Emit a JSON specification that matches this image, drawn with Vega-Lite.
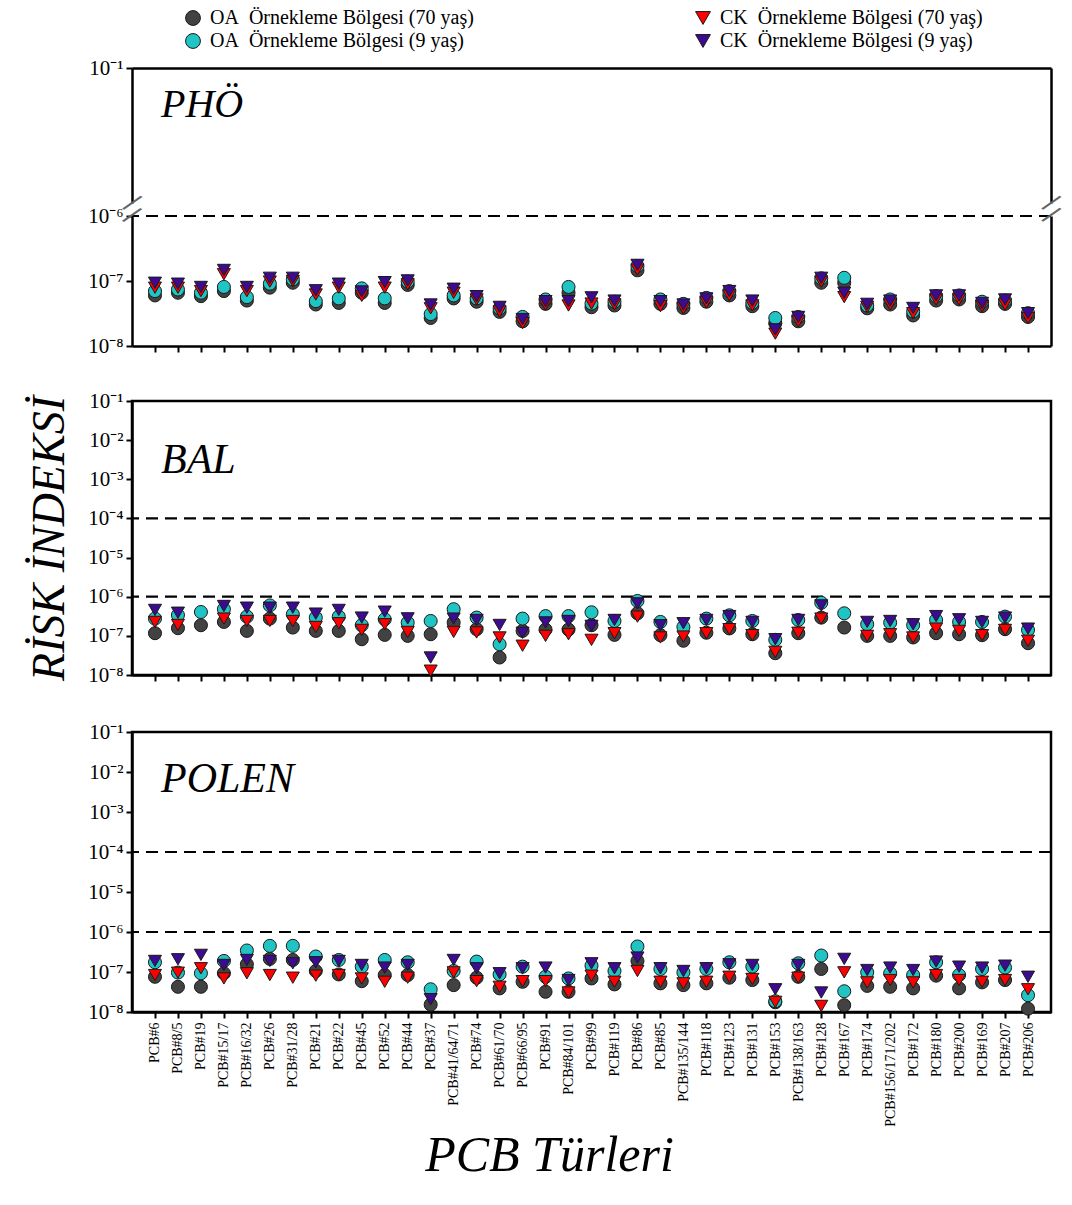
{
  "$schema": "https://vega.github.io/schema/vega-lite/v6.json",
  "padding": {"left": 25, "top": 8, "right": 5, "bottom": 5},
  "background": "white",
  "config": {
    "font": "Liberation Serif",
    "view": {"stroke": "black", "strokeWidth": 2.5},
    "axis": {"grid": false, "domainColor": "black", "domainWidth": 2.5, "tickColor": "black", "tickWidth": 2, "tickSize": 6, "labelColor": "black", "labelFont": "Liberation Serif", "titleFont": "Liberation Serif", "titleColor": "black", "labelFontSize": 21, "labelPadding": 3},
    "legend": {"labelFont": "Liberation Serif", "labelFontSize": 20, "labelColor": "black", "labelLimit": 0}
  },
  "datasets": {
    "pho": [
      {"pcb":"PCB#6","oa70":6.0e-8,"oa9":7.0e-8,"ck70":7.9e-8,"ck9":9.4e-8},
      {"pcb":"PCB#8/5","oa70":6.6e-8,"oa9":7.4e-8,"ck70":7.9e-8,"ck9":9.1e-8},
      {"pcb":"PCB#19","oa70":5.85e-8,"oa9":6.6e-8,"ck70":7.0e-8,"ck9":8.1e-8},
      {"pcb":"PCB#15/17","oa70":7.0e-8,"oa9":8.1e-8,"ck70":1.27e-7,"ck9":1.48e-7},
      {"pcb":"PCB#16/32","oa70":5.0e-8,"oa9":5.65e-8,"ck70":7.0e-8,"ck9":8.1e-8},
      {"pcb":"PCB#26","oa70":7.9e-8,"oa9":9.1e-8,"ck70":9.8e-8,"ck9":1.12e-7},
      {"pcb":"PCB#31/28","oa70":9.4e-8,"oa9":1.06e-7,"ck70":1.0e-7,"ck9":1.12e-7},
      {"pcb":"PCB#21","oa70":4.35e-8,"oa9":4.9e-8,"ck70":6.2e-8,"ck9":7.2e-8},
      {"pcb":"PCB#22","oa70":4.6e-8,"oa9":5.4e-8,"ck70":7.9e-8,"ck9":9.1e-8},
      {"pcb":"PCB#45","oa70":6.6e-8,"oa9":7.7e-8,"ck70":5.9e-8,"ck9":6.9e-8},
      {"pcb":"PCB#52","oa70":4.6e-8,"oa9":5.4e-8,"ck70":7.9e-8,"ck9":9.6e-8},
      {"pcb":"PCB#44","oa70":8.7e-8,"oa9":9.8e-8,"ck70":8.9e-8,"ck9":1.02e-7},
      {"pcb":"PCB#37","oa70":2.7e-8,"oa9":3.1e-8,"ck70":3.8e-8,"ck9":4.35e-8},
      {"pcb":"PCB#41/64/71","oa70":5.4e-8,"oa9":6.0e-8,"ck70":6.6e-8,"ck9":7.6e-8},
      {"pcb":"PCB#74","oa70":4.8e-8,"oa9":5.4e-8,"ck70":5.2e-8,"ck9":5.85e-8},
      {"pcb":"PCB#61/70","oa70":3.35e-8,"oa9":3.8e-8,"ck70":3.4e-8,"ck9":4.0e-8},
      {"pcb":"PCB#66/95","oa70":2.4e-8,"oa9":2.8e-8,"ck70":2.25e-8,"ck9":2.6e-8},
      {"pcb":"PCB#91","oa70":4.45e-8,"oa9":5.2e-8,"ck70":4.35e-8,"ck9":4.9e-8},
      {"pcb":"PCB#84/101","oa70":6.6e-8,"oa9":8.1e-8,"ck70":4.2e-8,"ck9":4.9e-8},
      {"pcb":"PCB#99","oa70":3.95e-8,"oa9":4.5e-8,"ck70":4.5e-8,"ck9":5.6e-8},
      {"pcb":"PCB#119","oa70":4.2e-8,"oa9":4.8e-8,"ck70":4.35e-8,"ck9":5.0e-8},
      {"pcb":"PCB#86","oa70":1.46e-7,"oa9":1.7e-7,"ck70":1.5e-7,"ck9":1.77e-7},
      {"pcb":"PCB#85","oa70":4.45e-8,"oa9":5.2e-8,"ck70":4.1e-8,"ck9":4.9e-8},
      {"pcb":"PCB#135/144","oa70":3.85e-8,"oa9":4.45e-8,"ck70":3.8e-8,"ck9":4.35e-8},
      {"pcb":"PCB#118","oa70":4.8e-8,"oa9":5.5e-8,"ck70":4.7e-8,"ck9":5.4e-8},
      {"pcb":"PCB#123","oa70":6.0e-8,"oa9":7.0e-8,"ck70":6.0e-8,"ck9":7.0e-8},
      {"pcb":"PCB#131","oa70":4.1e-8,"oa9":4.6e-8,"ck70":4.2e-8,"ck9":5.0e-8},
      {"pcb":"PCB#153","oa70":2.25e-8,"oa9":2.7e-8,"ck70":1.55e-8,"ck9":1.8e-8},
      {"pcb":"PCB#138/163","oa70":2.4e-8,"oa9":2.8e-8,"ck70":2.4e-8,"ck9":2.8e-8},
      {"pcb":"PCB#128","oa70":9.4e-8,"oa9":1.1e-7,"ck70":9.8e-8,"ck9":1.12e-7},
      {"pcb":"PCB#167","oa70":9.4e-8,"oa9":1.12e-7,"ck70":5.65e-8,"ck9":6.6e-8},
      {"pcb":"PCB#174","oa70":3.8e-8,"oa9":4.2e-8,"ck70":4.0e-8,"ck9":4.45e-8},
      {"pcb":"PCB#156/171/202","oa70":4.35e-8,"oa9":5.2e-8,"ck70":4.35e-8,"ck9":5.0e-8},
      {"pcb":"PCB#172","oa70":2.95e-8,"oa9":3.4e-8,"ck70":3.2e-8,"ck9":3.85e-8},
      {"pcb":"PCB#180","oa70":5.0e-8,"oa9":5.85e-8,"ck70":5.2e-8,"ck9":6.0e-8},
      {"pcb":"PCB#200","oa70":5.2e-8,"oa9":6.0e-8,"ck70":5.2e-8,"ck9":6.0e-8},
      {"pcb":"PCB#169","oa70":4.1e-8,"oa9":4.8e-8,"ck70":4.1e-8,"ck9":4.6e-8},
      {"pcb":"PCB#207","oa70":4.45e-8,"oa9":5.0e-8,"ck70":4.35e-8,"ck9":5.2e-8},
      {"pcb":"PCB#206","oa70":2.8e-8,"oa9":3.2e-8,"ck70":2.7e-8,"ck9":3.2e-8}
    ],
    "bal": [
      {"pcb":"PCB#6","oa70":1.17e-7,"oa9":2.76e-7,"ck70":2.27e-7,"ck9":4.6e-7},
      {"pcb":"PCB#8/5","oa70":1.57e-7,"oa9":3.4e-7,"ck70":1.9e-7,"ck9":3.9e-7},
      {"pcb":"PCB#19","oa70":1.87e-7,"oa9":4.07e-7,"ck70":null,"ck9":null},
      {"pcb":"PCB#15/17","oa70":2.27e-7,"oa9":4.8e-7,"ck70":2.76e-7,"ck9":5.8e-7},
      {"pcb":"PCB#16/32","oa70":1.34e-7,"oa9":3.1e-7,"ck70":2.4e-7,"ck9":5.25e-7},
      {"pcb":"PCB#26","oa70":2.76e-7,"oa9":6.0e-7,"ck70":2.4e-7,"ck9":5.25e-7},
      {"pcb":"PCB#31/28","oa70":1.63e-7,"oa9":3.55e-7,"ck70":2.4e-7,"ck9":5.25e-7},
      {"pcb":"PCB#21","oa70":1.34e-7,"oa9":2.93e-7,"ck70":1.69e-7,"ck9":3.7e-7},
      {"pcb":"PCB#22","oa70":1.34e-7,"oa9":3.1e-7,"ck70":2.1e-7,"ck9":4.6e-7},
      {"pcb":"PCB#45","oa70":8.2e-8,"oa9":1.87e-7,"ck70":1.42e-7,"ck9":2.93e-7},
      {"pcb":"PCB#52","oa70":1.06e-7,"oa9":2.65e-7,"ck70":1.98e-7,"ck9":4.15e-7},
      {"pcb":"PCB#44","oa70":1.0e-7,"oa9":2.18e-7,"ck70":1.26e-7,"ck9":2.8e-7},
      {"pcb":"PCB#37","oa70":1.1e-7,"oa9":2.4e-7,"ck70":1.29e-8,"ck9":2.8e-8},
      {"pcb":"PCB#41/64/71","oa70":2.18e-7,"oa9":4.8e-7,"ck70":1.26e-7,"ck9":2.76e-7},
      {"pcb":"PCB#74","oa70":1.48e-7,"oa9":2.93e-7,"ck70":1.22e-7,"ck9":2.55e-7},
      {"pcb":"PCB#61/70","oa70":2.8e-8,"oa9":6.1e-8,"ck70":9.1e-8,"ck9":1.9e-7},
      {"pcb":"PCB#66/95","oa70":1.34e-7,"oa9":2.76e-7,"ck70":5.6e-8,"ck9":1.2e-7},
      {"pcb":"PCB#91","oa70":1.45e-7,"oa9":3.2e-7,"ck70":1.0e-7,"ck9":2.2e-7},
      {"pcb":"PCB#84/101","oa70":1.45e-7,"oa9":3.2e-7,"ck70":1.1e-7,"ck9":2.4e-7},
      {"pcb":"PCB#99","oa70":1.87e-7,"oa9":4.0e-7,"ck70":7.9e-8,"ck9":1.8e-7},
      {"pcb":"PCB#119","oa70":1.06e-7,"oa9":2.4e-7,"ck70":1.17e-7,"ck9":2.55e-7},
      {"pcb":"PCB#86","oa70":3.77e-7,"oa9":7.8e-7,"ck70":3.1e-7,"ck9":6.75e-7},
      {"pcb":"PCB#85","oa70":1.04e-7,"oa9":2.27e-7,"ck70":9.1e-8,"ck9":1.87e-7},
      {"pcb":"PCB#135/144","oa70":7.5e-8,"oa9":1.69e-7,"ck70":9.6e-8,"ck9":2.1e-7},
      {"pcb":"PCB#118","oa70":1.2e-7,"oa9":2.76e-7,"ck70":1.17e-7,"ck9":2.55e-7},
      {"pcb":"PCB#123","oa70":1.55e-7,"oa9":3.35e-7,"ck70":1.48e-7,"ck9":3.2e-7},
      {"pcb":"PCB#131","oa70":1.1e-7,"oa9":2.4e-7,"ck70":1.04e-7,"ck9":2.27e-7},
      {"pcb":"PCB#153","oa70":3.6e-8,"oa9":7.9e-8,"ck70":3.9e-8,"ck9":8.2e-8},
      {"pcb":"PCB#138/163","oa70":1.17e-7,"oa9":2.55e-7,"ck70":1.2e-7,"ck9":2.55e-7},
      {"pcb":"PCB#128","oa70":2.93e-7,"oa9":7.0e-7,"ck70":2.76e-7,"ck9":6.0e-7},
      {"pcb":"PCB#167","oa70":1.63e-7,"oa9":3.77e-7,"ck70":null,"ck9":null},
      {"pcb":"PCB#174","oa70":1.0e-7,"oa9":1.98e-7,"ck70":1.0e-7,"ck9":2.27e-7},
      {"pcb":"PCB#156/171/202","oa70":1.0e-7,"oa9":2.18e-7,"ck70":1.1e-7,"ck9":2.4e-7},
      {"pcb":"PCB#172","oa70":9.1e-8,"oa9":1.87e-7,"ck70":9.1e-8,"ck9":1.98e-7},
      {"pcb":"PCB#180","oa70":1.17e-7,"oa9":2.55e-7,"ck70":1.53e-7,"ck9":3.2e-7},
      {"pcb":"PCB#200","oa70":1.1e-7,"oa9":2.27e-7,"ck70":1.34e-7,"ck9":2.65e-7},
      {"pcb":"PCB#169","oa70":1.04e-7,"oa9":2.27e-7,"ck70":1.04e-7,"ck9":2.27e-7},
      {"pcb":"PCB#207","oa70":1.48e-7,"oa9":3.1e-7,"ck70":1.42e-7,"ck9":2.93e-7},
      {"pcb":"PCB#206","oa70":6.5e-8,"oa9":1.42e-7,"ck70":7.5e-8,"ck9":1.53e-7}
    ],
    "polen": [
      {"pcb":"PCB#6","oa70":7.6e-8,"oa9":1.75e-7,"ck70":8.4e-8,"ck9":1.89e-7},
      {"pcb":"PCB#8/5","oa70":4.27e-8,"oa9":9.7e-8,"ck70":9.6e-8,"ck9":2.08e-7},
      {"pcb":"PCB#19","oa70":4.27e-8,"oa9":9.3e-8,"ck70":1.24e-7,"ck9":2.68e-7},
      {"pcb":"PCB#15/17","oa70":9.3e-8,"oa9":1.89e-7,"ck70":6.9e-8,"ck9":1.5e-7},
      {"pcb":"PCB#16/32","oa70":1.56e-7,"oa9":3.45e-7,"ck70":9.3e-8,"ck9":2.0e-7},
      {"pcb":"PCB#26","oa70":2.13e-7,"oa9":4.5e-7,"ck70":8.4e-8,"ck9":1.89e-7},
      {"pcb":"PCB#31/28","oa70":2.0e-7,"oa9":4.5e-7,"ck70":7.2e-8,"ck9":1.65e-7},
      {"pcb":"PCB#21","oa70":1.06e-7,"oa9":2.44e-7,"ck70":8.1e-8,"ck9":1.75e-7},
      {"pcb":"PCB#22","oa70":8.7e-8,"oa9":2.0e-7,"ck70":8.4e-8,"ck9":1.89e-7},
      {"pcb":"PCB#45","oa70":5.9e-8,"oa9":1.36e-7,"ck70":6.9e-8,"ck9":1.5e-7},
      {"pcb":"PCB#52","oa70":8.4e-8,"oa9":2.0e-7,"ck70":5.7e-8,"ck9":1.29e-7},
      {"pcb":"PCB#44","oa70":8.4e-8,"oa9":1.75e-7,"ck70":7.2e-8,"ck9":1.5e-7},
      {"pcb":"PCB#37","oa70":1.53e-8,"oa9":3.7e-8,"ck70":null,"ck9":2.09e-8},
      {"pcb":"PCB#41/64/71","oa70":4.7e-8,"oa9":1.06e-7,"ck70":9.8e-8,"ck9":2.0e-7},
      {"pcb":"PCB#74","oa70":7.2e-8,"oa9":1.82e-7,"ck70":5.9e-8,"ck9":1.24e-7},
      {"pcb":"PCB#61/70","oa70":3.9e-8,"oa9":8.7e-8,"ck70":4.27e-8,"ck9":9.3e-8},
      {"pcb":"PCB#66/95","oa70":5.7e-8,"oa9":1.36e-7,"ck70":5.9e-8,"ck9":1.24e-7},
      {"pcb":"PCB#91","oa70":3.2e-8,"oa9":7.6e-8,"ck70":5.9e-8,"ck9":1.29e-7},
      {"pcb":"PCB#84/101","oa70":3.2e-8,"oa9":6.9e-8,"ck70":3.07e-8,"ck9":6.3e-8},
      {"pcb":"PCB#99","oa70":6.9e-8,"oa9":1.44e-7,"ck70":8.1e-8,"ck9":1.65e-7},
      {"pcb":"PCB#119","oa70":4.9e-8,"oa9":1.06e-7,"ck70":5.7e-8,"ck9":1.24e-7},
      {"pcb":"PCB#86","oa70":1.89e-7,"oa9":4.35e-7,"ck70":1.06e-7,"ck9":2.3e-7},
      {"pcb":"PCB#85","oa70":5.2e-8,"oa9":1.19e-7,"ck70":5.7e-8,"ck9":1.24e-7},
      {"pcb":"PCB#135/144","oa70":4.7e-8,"oa9":9.8e-8,"ck70":5.2e-8,"ck9":1.06e-7},
      {"pcb":"PCB#118","oa70":5.2e-8,"oa9":1.19e-7,"ck70":5.7e-8,"ck9":1.24e-7},
      {"pcb":"PCB#123","oa70":7.2e-8,"oa9":1.75e-7,"ck70":7.6e-8,"ck9":1.56e-7},
      {"pcb":"PCB#131","oa70":6.3e-8,"oa9":1.36e-7,"ck70":6.7e-8,"ck9":1.5e-7},
      {"pcb":"PCB#153","oa70":1.75e-8,"oa9":1.86e-8,"ck70":1.79e-8,"ck9":3.7e-8},
      {"pcb":"PCB#138/163","oa70":7.6e-8,"oa9":1.65e-7,"ck70":7.2e-8,"ck9":1.5e-7},
      {"pcb":"PCB#128","oa70":1.19e-7,"oa9":2.58e-7,"ck70":1.42e-8,"ck9":3.07e-8},
      {"pcb":"PCB#167","oa70":1.48e-8,"oa9":3.3e-8,"ck70":9.8e-8,"ck9":2.13e-7},
      {"pcb":"PCB#174","oa70":4.5e-8,"oa9":9.8e-8,"ck70":5.5e-8,"ck9":1.12e-7},
      {"pcb":"PCB#156/171/202","oa70":4.27e-8,"oa9":9.3e-8,"ck70":6.3e-8,"ck9":1.29e-7},
      {"pcb":"PCB#172","oa70":3.9e-8,"oa9":8.4e-8,"ck70":5.5e-8,"ck9":1.12e-7},
      {"pcb":"PCB#180","oa70":8.1e-8,"oa9":1.75e-7,"ck70":8.4e-8,"ck9":1.82e-7},
      {"pcb":"PCB#200","oa70":3.9e-8,"oa9":8.4e-8,"ck70":6.3e-8,"ck9":1.36e-7},
      {"pcb":"PCB#169","oa70":5.5e-8,"oa9":1.19e-7,"ck70":5.7e-8,"ck9":1.29e-7},
      {"pcb":"PCB#207","oa70":6.3e-8,"oa9":1.29e-7,"ck70":6.3e-8,"ck9":1.44e-7},
      {"pcb":"PCB#206","oa70":1.21e-8,"oa9":2.63e-8,"ck70":3.7e-8,"ck9":7.6e-8}
    ]
  },
  "spacing": 32,
  "bounds": "full",
  "resolve": {"scale": {"color": "shared", "shape": "shared"}, "legend": {"color": "shared", "shape": "shared"}},
  "vconcat": [
    {
      "spacing": 13,
      "bounds": "flush",
      "resolve": {"scale": {"color": "shared", "shape": "shared"}, "legend": {"color": "shared", "shape": "shared"}},
      "vconcat": [
        {
          "width": 919, "height": 135,
          "view": {"stroke": null},
          "layer": [
            {
              "data": {"values": [{}]},
              "mark": {"type": "text", "text": "PHÖ", "font": "Liberation Serif", "fontSize": 40, "fontStyle": "italic", "align": "left", "baseline": "alphabetic", "dx": 6, "color": "black"},
              "encoding": {
                "x": {"datum": "PCB#6", "type": "nominal", "scale": {"type": "point", "padding": 1, "domain": ["PCB#6","PCB#8/5","PCB#19","PCB#15/17","PCB#16/32","PCB#26","PCB#31/28","PCB#21","PCB#22","PCB#45","PCB#52","PCB#44","PCB#37","PCB#41/64/71","PCB#74","PCB#61/70","PCB#66/95","PCB#91","PCB#84/101","PCB#99","PCB#119","PCB#86","PCB#85","PCB#135/144","PCB#118","PCB#123","PCB#131","PCB#153","PCB#138/163","PCB#128","PCB#167","PCB#174","PCB#156/171/202","PCB#172","PCB#180","PCB#200","PCB#169","PCB#207","PCB#206"]}, "axis": {"orient": "top", "labels": false, "ticks": false, "title": null}},
                "y": {"datum": 1.5e-3, "type": "quantitative", "scale": {"type": "log", "domain": [1e-6, 1e-1], "nice": false}, "axis": {"values": [1e-1], "title": null, "labelExpr": "'10' + ['⁰','⁻¹','⁻²','⁻³','⁻⁴','⁻⁵','⁻⁶','⁻⁷','⁻⁸'][round(-log(datum.value)/LN10)]"}}
              }
            },
            {
              "data": {"values": [{}]},
              "mark": {"type": "rule", "opacity": 0},
              "encoding": {
                "y": {"datum": 1e-1, "type": "quantitative", "scale": {"type": "log", "domain": [1e-6, 1e-1], "nice": false}, "axis": {"orient": "right", "labels": false, "ticks": false, "title": null}}
              }
            }
          ],
          "resolve": {"scale": {"y": "independent"}}
        },
        {
          "width": 919, "height": 130,
          "view": {"stroke": null},
          "layer": [
            {
              "data": {"values": [{}]},
              "mark": {"type": "rule", "strokeDash": [12, 7], "strokeWidth": 2.2, "color": "black"},
              "encoding": {
                "y": {"datum": 1e-6, "type": "quantitative", "scale": {"type": "log", "domain": [1e-8, 1e-6], "nice": false}, "axis": null}
              }
            },
            {
              "data": {"values": [{}]},
              "mark": {"type": "text", "text": "/", "font": "DejaVu Sans", "fontSize": 26, "angle": 38, "align": "center", "baseline": "middle", "dx": -26.1, "dy": 3.9, "color": "#666666"},
              "encoding": {
                "x": {"datum": "PCB#6", "type": "nominal"},
                "y": {"datum": 1e-6, "type": "quantitative", "scale": {"type": "log", "domain": [1e-8, 1e-6], "nice": false}, "axis": null}
              }
            },
            {
              "data": {"values": [{}]},
              "mark": {"type": "text", "text": "/", "font": "DejaVu Sans", "fontSize": 26, "angle": 38, "align": "center", "baseline": "middle", "dx": -18.7, "dy": 13.4, "color": "#666666"},
              "encoding": {
                "x": {"datum": "PCB#6", "type": "nominal"},
                "y": {"datum": 1e-6, "type": "quantitative", "scale": {"type": "log", "domain": [1e-8, 1e-6], "nice": false}, "axis": null}
              }
            },
            {
              "data": {"values": [{}]},
              "mark": {"type": "text", "text": "/", "font": "DejaVu Sans", "fontSize": 26, "angle": 38, "align": "center", "baseline": "middle", "dx": 10.1, "dy": -24.4, "color": "#666666"},
              "encoding": {
                "x": {"datum": "PCB#206", "type": "nominal"},
                "y": {"datum": 1e-6, "type": "quantitative", "scale": {"type": "log", "domain": [1e-8, 1e-6], "nice": false}, "axis": null}
              }
            },
            {
              "data": {"values": [{}]},
              "mark": {"type": "text", "text": "/", "font": "DejaVu Sans", "fontSize": 26, "angle": 38, "align": "center", "baseline": "middle", "dx": 17.5, "dy": -15.0, "color": "#666666"},
              "encoding": {
                "x": {"datum": "PCB#206", "type": "nominal"},
                "y": {"datum": 1e-6, "type": "quantitative", "scale": {"type": "log", "domain": [1e-8, 1e-6], "nice": false}, "axis": null}
              }
            },
            {
              "data": {"name": "pho"},
              "transform": [{"fold": ["oa70", "oa9", "ck70", "ck9"], "as": ["series", "value"]}, {"filter": "isValid(datum.value)"}],
              "mark": {"type": "point", "filled": true, "size": 170, "stroke": "#1a1a1a", "strokeWidth": 1, "opacity": 1},
              "encoding": {
                "x": {"field": "pcb", "type": "nominal", "scale": {"type": "point", "padding": 1, "domain": ["PCB#6","PCB#8/5","PCB#19","PCB#15/17","PCB#16/32","PCB#26","PCB#31/28","PCB#21","PCB#22","PCB#45","PCB#52","PCB#44","PCB#37","PCB#41/64/71","PCB#74","PCB#61/70","PCB#66/95","PCB#91","PCB#84/101","PCB#99","PCB#119","PCB#86","PCB#85","PCB#135/144","PCB#118","PCB#123","PCB#131","PCB#153","PCB#138/163","PCB#128","PCB#167","PCB#174","PCB#156/171/202","PCB#172","PCB#180","PCB#200","PCB#169","PCB#207","PCB#206"]}, "axis": {"labels": false, "title": null}},
                "y": {"field": "value", "type": "quantitative", "scale": {"type": "log", "domain": [1e-8, 1e-6], "nice": false}, "axis": {"values": [1e-8, 1e-7, 1e-6], "title": null, "labelExpr": "'10' + ['⁰','⁻¹','⁻²','⁻³','⁻⁴','⁻⁵','⁻⁶','⁻⁷','⁻⁸'][round(-log(datum.value)/LN10)]"}},
                "color": {"field": "series", "type": "nominal", "scale": {"domain": ["oa70", "oa9", "ck70", "ck9"], "range": ["#424242", "#21c4c4", "#ff0000", "#3d0b8f"]}, "legend": {"title": null, "orient": "none", "legendX": 51, "legendY": -60, "columns": 2, "columnPadding": 219, "rowPadding": 3, "symbolSize": 220, "symbolStrokeColor": "#1a1a1a", "symbolStrokeWidth": 1, "labelOffset": 7, "labelExpr": "datum.value == 'oa70' ? 'OA\u2002Örnekleme Bölgesi (70 yaş)' : datum.value == 'oa9' ? 'OA\u2002Örnekleme Bölgesi (9 yaş)' : datum.value == 'ck70' ? 'CK\u2002Örnekleme Bölgesi (70 yaş)' : 'CK\u2002Örnekleme Bölgesi (9 yaş)'"}},
                "shape": {"field": "series", "type": "nominal", "scale": {"domain": ["oa70", "oa9", "ck70", "ck9"], "range": ["circle", "circle", "triangle-down", "triangle-down"]}, "legend": {"title": null, "orient": "none", "legendX": 51, "legendY": -60, "columns": 2, "columnPadding": 219, "rowPadding": 3, "symbolSize": 220, "symbolStrokeColor": "#1a1a1a", "symbolStrokeWidth": 1, "labelOffset": 7, "labelExpr": "datum.value == 'oa70' ? 'OA\u2002Örnekleme Bölgesi (70 yaş)' : datum.value == 'oa9' ? 'OA\u2002Örnekleme Bölgesi (9 yaş)' : datum.value == 'ck70' ? 'CK\u2002Örnekleme Bölgesi (70 yaş)' : 'CK\u2002Örnekleme Bölgesi (9 yaş)'"}}
              }
            },
            {
              "data": {"values": [{}]},
              "mark": {"type": "rule", "opacity": 0},
              "encoding": {
                "y": {"datum": 1e-6, "type": "quantitative", "scale": {"type": "log", "domain": [1e-8, 1e-6], "nice": false}, "axis": {"orient": "right", "labels": false, "ticks": false, "title": null}}
              }
            }
          ],
          "resolve": {"scale": {"y": "independent"}}
        }
      ]
    },
    {
      "width": 919, "height": 274,
      "layer": [
        {
          "data": {"values": [{}]},
          "mark": {"type": "rule", "strokeDash": [12, 7], "strokeWidth": 2.2, "color": "black"},
          "encoding": {"y": {"datum": 1e-4, "type": "quantitative"}}
        },
        {
          "data": {"values": [{}]},
          "mark": {"type": "rule", "strokeDash": [12, 7], "strokeWidth": 2.2, "color": "black"},
          "encoding": {"y": {"datum": 1e-6, "type": "quantitative"}}
        },
        {
          "data": {"values": [{}]},
          "mark": {"type": "text", "text": "BAL", "font": "Liberation Serif", "fontSize": 42, "fontStyle": "italic", "align": "left", "baseline": "alphabetic", "dx": 6, "color": "black"},
          "encoding": {
            "x": {"datum": "PCB#6", "type": "nominal"},
            "y": {"datum": 1.44e-3, "type": "quantitative"}
          }
        },
        {
          "data": {"name": "bal"},
          "transform": [{"fold": ["oa70", "oa9", "ck70", "ck9"], "as": ["series", "value"]}, {"filter": "isValid(datum.value)"}],
          "mark": {"type": "point", "filled": true, "size": 170, "stroke": "#1a1a1a", "strokeWidth": 1, "opacity": 1},
          "encoding": {
            "x": {"field": "pcb", "type": "nominal", "scale": {"type": "point", "padding": 1, "domain": ["PCB#6","PCB#8/5","PCB#19","PCB#15/17","PCB#16/32","PCB#26","PCB#31/28","PCB#21","PCB#22","PCB#45","PCB#52","PCB#44","PCB#37","PCB#41/64/71","PCB#74","PCB#61/70","PCB#66/95","PCB#91","PCB#84/101","PCB#99","PCB#119","PCB#86","PCB#85","PCB#135/144","PCB#118","PCB#123","PCB#131","PCB#153","PCB#138/163","PCB#128","PCB#167","PCB#174","PCB#156/171/202","PCB#172","PCB#180","PCB#200","PCB#169","PCB#207","PCB#206"]}, "axis": {"labels": false, "title": null}},
            "y": {"field": "value", "type": "quantitative", "scale": {"type": "log", "domain": [1e-8, 1e-1], "nice": false}, "axis": {"values": [1e-8, 1e-7, 1e-6, 1e-5, 1e-4, 1e-3, 1e-2, 1e-1], "labelExpr": "'10' + ['⁰','⁻¹','⁻²','⁻³','⁻⁴','⁻⁵','⁻⁶','⁻⁷','⁻⁸'][round(-log(datum.value)/LN10)]", "title": "RİSK İNDEKSİ", "titleFontSize": 46, "titleFontStyle": "italic", "titleFontWeight": "normal", "titlePadding": 14}},
            "color": {"field": "series", "type": "nominal", "scale": {"domain": ["oa70", "oa9", "ck70", "ck9"], "range": ["#424242", "#21c4c4", "#ff0000", "#3d0b8f"]}, "legend": {"title": null, "orient": "none", "legendX": 51, "legendY": -60, "columns": 2, "columnPadding": 219, "rowPadding": 3, "symbolSize": 220, "symbolStrokeColor": "#1a1a1a", "symbolStrokeWidth": 1, "labelOffset": 7, "labelExpr": "datum.value == 'oa70' ? 'OA\u2002Örnekleme Bölgesi (70 yaş)' : datum.value == 'oa9' ? 'OA\u2002Örnekleme Bölgesi (9 yaş)' : datum.value == 'ck70' ? 'CK\u2002Örnekleme Bölgesi (70 yaş)' : 'CK\u2002Örnekleme Bölgesi (9 yaş)'"}},
            "shape": {"field": "series", "type": "nominal", "scale": {"domain": ["oa70", "oa9", "ck70", "ck9"], "range": ["circle", "circle", "triangle-down", "triangle-down"]}, "legend": {"title": null, "orient": "none", "legendX": 51, "legendY": -60, "columns": 2, "columnPadding": 219, "rowPadding": 3, "symbolSize": 220, "symbolStrokeColor": "#1a1a1a", "symbolStrokeWidth": 1, "labelOffset": 7, "labelExpr": "datum.value == 'oa70' ? 'OA\u2002Örnekleme Bölgesi (70 yaş)' : datum.value == 'oa9' ? 'OA\u2002Örnekleme Bölgesi (9 yaş)' : datum.value == 'ck70' ? 'CK\u2002Örnekleme Bölgesi (70 yaş)' : 'CK\u2002Örnekleme Bölgesi (9 yaş)'"}}
          }
        }
      ]
    },
    {
      "width": 919, "height": 280,
      "layer": [
        {
          "data": {"values": [{}]},
          "mark": {"type": "rule", "strokeDash": [12, 7], "strokeWidth": 2.2, "color": "black"},
          "encoding": {"y": {"datum": 1e-4, "type": "quantitative"}}
        },
        {
          "data": {"values": [{}]},
          "mark": {"type": "rule", "strokeDash": [12, 7], "strokeWidth": 2.2, "color": "black"},
          "encoding": {"y": {"datum": 1e-6, "type": "quantitative"}}
        },
        {
          "data": {"values": [{}]},
          "mark": {"type": "text", "text": "POLEN", "font": "Liberation Serif", "fontSize": 42, "fontStyle": "italic", "align": "left", "baseline": "alphabetic", "dx": 6, "color": "black"},
          "encoding": {
            "x": {"datum": "PCB#6", "type": "nominal"},
            "y": {"datum": 3.16e-3, "type": "quantitative"}
          }
        },
        {
          "data": {"name": "polen"},
          "transform": [{"fold": ["oa70", "oa9", "ck70", "ck9"], "as": ["series", "value"]}, {"filter": "isValid(datum.value)"}],
          "mark": {"type": "point", "filled": true, "size": 170, "stroke": "#1a1a1a", "strokeWidth": 1, "opacity": 1},
          "encoding": {
            "x": {"field": "pcb", "type": "nominal", "scale": {"type": "point", "padding": 1, "domain": ["PCB#6","PCB#8/5","PCB#19","PCB#15/17","PCB#16/32","PCB#26","PCB#31/28","PCB#21","PCB#22","PCB#45","PCB#52","PCB#44","PCB#37","PCB#41/64/71","PCB#74","PCB#61/70","PCB#66/95","PCB#91","PCB#84/101","PCB#99","PCB#119","PCB#86","PCB#85","PCB#135/144","PCB#118","PCB#123","PCB#131","PCB#153","PCB#138/163","PCB#128","PCB#167","PCB#174","PCB#156/171/202","PCB#172","PCB#180","PCB#200","PCB#169","PCB#207","PCB#206"]}, "axis": {"labelAngle": 270, "labelFontSize": 14, "labelPadding": 4, "title": "PCB Türleri", "titleFontSize": 50, "titleFontStyle": "italic", "titleFontWeight": "normal", "titlePadding": 4, "titleX": 417}},
            "y": {"field": "value", "type": "quantitative", "scale": {"type": "log", "domain": [1e-8, 1e-1], "nice": false}, "axis": {"values": [1e-8, 1e-7, 1e-6, 1e-5, 1e-4, 1e-3, 1e-2, 1e-1], "labelExpr": "'10' + ['⁰','⁻¹','⁻²','⁻³','⁻⁴','⁻⁵','⁻⁶','⁻⁷','⁻⁸'][round(-log(datum.value)/LN10)]", "title": null}},
            "color": {"field": "series", "type": "nominal", "scale": {"domain": ["oa70", "oa9", "ck70", "ck9"], "range": ["#424242", "#21c4c4", "#ff0000", "#3d0b8f"]}, "legend": {"title": null, "orient": "none", "legendX": 51, "legendY": -60, "columns": 2, "columnPadding": 219, "rowPadding": 3, "symbolSize": 220, "symbolStrokeColor": "#1a1a1a", "symbolStrokeWidth": 1, "labelOffset": 7, "labelExpr": "datum.value == 'oa70' ? 'OA\u2002Örnekleme Bölgesi (70 yaş)' : datum.value == 'oa9' ? 'OA\u2002Örnekleme Bölgesi (9 yaş)' : datum.value == 'ck70' ? 'CK\u2002Örnekleme Bölgesi (70 yaş)' : 'CK\u2002Örnekleme Bölgesi (9 yaş)'"}},
            "shape": {"field": "series", "type": "nominal", "scale": {"domain": ["oa70", "oa9", "ck70", "ck9"], "range": ["circle", "circle", "triangle-down", "triangle-down"]}, "legend": {"title": null, "orient": "none", "legendX": 51, "legendY": -60, "columns": 2, "columnPadding": 219, "rowPadding": 3, "symbolSize": 220, "symbolStrokeColor": "#1a1a1a", "symbolStrokeWidth": 1, "labelOffset": 7, "labelExpr": "datum.value == 'oa70' ? 'OA\u2002Örnekleme Bölgesi (70 yaş)' : datum.value == 'oa9' ? 'OA\u2002Örnekleme Bölgesi (9 yaş)' : datum.value == 'ck70' ? 'CK\u2002Örnekleme Bölgesi (70 yaş)' : 'CK\u2002Örnekleme Bölgesi (9 yaş)'"}}
          }
        }
      ]
    }
  ]
}
